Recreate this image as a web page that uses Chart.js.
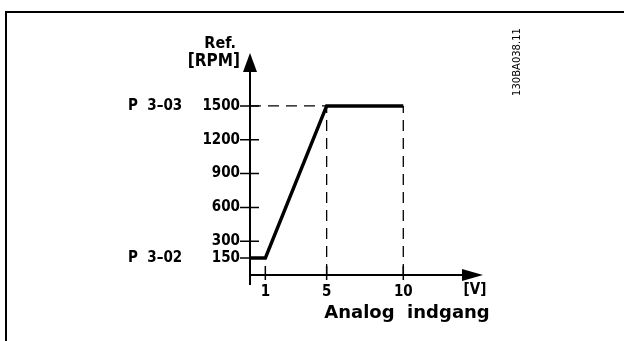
<!DOCTYPE html>
<html>
<head>
<meta charset="utf-8">
<script src="https://cdn.jsdelivr.net/npm/chart.js@4"></script>
<style>
  html, body { margin: 0; padding: 0; background: #fff; }
  #wrap { width: 624px; height: 341px; position: relative; }
</style>
</head>
<body>
<div id="wrap"><canvas id="chart"></canvas></div>
<script>
// curve: analog input [V] -> reference [RPM]
const inputVolts = [0, 1, 5, 10];
const referenceRpm = [150, 150, 1500, 1500];
const xTickValues = [1, 5, 10];
const yTickValues = [150, 300, 600, 900, 1200, 1500];
const paramLabels = ["P  3\u201303", "P  3\u201302"]; // at max ref / min ref
const paramValues = [1500, 150];
const guideVolts = [5, 10];

const labelFont = "DejaVu Sans Condensed";

// dashed helper lines, built from the curve values above
const guideSets = [
  { data: [{ x: 0, y: paramValues[0] }, { x: guideVolts[0], y: paramValues[0] }] },
  { data: [{ x: guideVolts[0], y: 0 }, { x: guideVolts[0], y: paramValues[0] }] },
  { data: [{ x: guideVolts[1], y: 0 }, { x: guideVolts[1], y: paramValues[0] }] }
].map(s => Object.assign(s, {
  borderColor: "#000",
  borderWidth: 1.3,
  borderDash: [11, 7],
  pointRadius: 0,
  fill: false,
  clip: false
}));

const decorations = {
  id: "decorations",
  beforeDraw(chart) {
    const ctx = chart.ctx;
    ctx.save();
    ctx.fillStyle = "#fff";
    ctx.fillRect(0, 0, chart.width, chart.height);
    // frame (top + left only visible)
    ctx.strokeStyle = "#000";
    ctx.lineWidth = 2;
    ctx.beginPath();
    ctx.moveTo(6, chart.height);
    ctx.lineTo(6, 12);
    ctx.lineTo(chart.width, 12);
    ctx.stroke();
    ctx.restore();
  },
  afterDraw(chart) {
    const ctx = chart.ctx;
    const xs = chart.scales.x, ys = chart.scales.y;
    const x0 = xs.getPixelForValue(0), y0 = ys.getPixelForValue(0);
    const top = chart.chartArea.top, right = chart.chartArea.right;
    ctx.save();
    ctx.strokeStyle = "#000";
    ctx.fillStyle = "#000";
    ctx.lineWidth = 2;

    // axes
    ctx.beginPath();
    ctx.moveTo(x0, y0 + 10);
    ctx.lineTo(x0, top + 10);
    ctx.moveTo(x0, y0);
    ctx.lineTo(right - 10, y0);
    ctx.stroke();

    // arrow heads
    ctx.beginPath();
    ctx.moveTo(x0, top);
    ctx.lineTo(x0 - 7, top + 19);
    ctx.lineTo(x0 + 7, top + 19);
    ctx.closePath();
    ctx.fill();
    ctx.beginPath();
    ctx.moveTo(right, y0);
    ctx.lineTo(right - 21, y0 - 6);
    ctx.lineTo(right - 21, y0 + 6);
    ctx.closePath();
    ctx.fill();

    // tick marks crossing the axes
    ctx.lineWidth = 1.5;
    ctx.beginPath();
    yTickValues.forEach(v => {
      const py = ys.getPixelForValue(v);
      ctx.moveTo(x0 - 10, py);
      ctx.lineTo(x0 + 9, py);
    });
    xTickValues.forEach(v => {
      const px = xs.getPixelForValue(v);
      ctx.moveTo(px, y0 - 9);
      ctx.lineTo(px, y0 + 5);
    });
    ctx.stroke();

    // texts
    ctx.font = "bold 15px '" + labelFont + "'";
    ctx.textBaseline = "middle";
    ctx.textAlign = "left";
    paramLabels.forEach((t, i) => {
      ctx.fillText(t, 128, ys.getPixelForValue(paramValues[i]));
    });
    ctx.textAlign = "right";
    ctx.font = "bold 16px '" + labelFont + "'";
    ctx.fillText("Ref.", 236, 44);
    ctx.font = "bold 17px '" + labelFont + "'";
    ctx.fillText("[RPM]", 240, 62);
    ctx.font = "bold 15px '" + labelFont + "'";
    ctx.textAlign = "center";
    ctx.fillText("[V]", 475, 290);
    ctx.font = "bold 18px 'DejaVu Sans'";
    ctx.fillText("Analog  indgang", 407, 313);

    ctx.translate(517, 62);
    ctx.rotate(-Math.PI / 2);
    ctx.font = "10px 'DejaVu Sans'";
    ctx.fillText("130BA038.11", 0, 0);
    ctx.restore();
  }
};

new Chart(document.getElementById("chart"), {
  type: "line",
  data: {
    datasets: [{
      data: inputVolts.map((v, i) => ({ x: v, y: referenceRpm[i] })),
      borderColor: "#000",
      borderWidth: 3.5,
      pointRadius: 0,
      fill: false,
      clip: false,
      tension: 0
    }].concat(guideSets)
  },
  options: {
    responsive: true,
    maintainAspectRatio: false,
    animation: false,
    events: [],
    layout: { padding: { top: 53, right: 141, left: 0, bottom: 0 } },
    plugins: { legend: { display: false }, tooltip: { enabled: false } },
    scales: {
      x: {
        type: "linear",
        min: 0,
        max: 15.2,
        afterBuildTicks: s => { s.ticks = xTickValues.map(v => ({ value: v })); },
        afterFit: s => { s.height = 66; },
        grid: { display: false },
        border: { display: false },
        ticks: {
          color: "#000", padding: 0, autoSkip: false, maxRotation: 0,
          font: { family: labelFont, size: 15, weight: "bold" },
          callback: v => String(v)
        }
      },
      y: {
        type: "linear",
        min: 0,
        max: 1970,
        afterBuildTicks: s => { s.ticks = yTickValues.map(v => ({ value: v })); },
        afterFit: s => { s.width = 250; },
        grid: { display: false },
        border: { display: false },
        ticks: {
          color: "#000", padding: 2,
          font: { family: labelFont, size: 15, weight: "bold" },
          callback: v => String(v)
        }
      }
    }
  },
  plugins: [decorations]
});
</script>
</body>
</html>
